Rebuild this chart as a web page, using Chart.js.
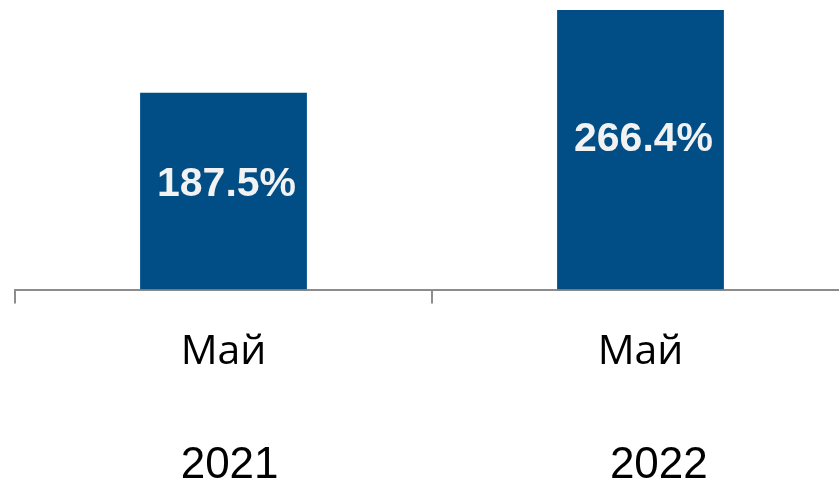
<!DOCTYPE html>
<html>
<head>
<meta charset="utf-8">
<script src="https://cdn.jsdelivr.net/npm/chart.js@4"></script>
<style>
  html, body { margin: 0; padding: 0; background: #fff; overflow: hidden; }
  #wrap { width: 864px; height: 486px; }
</style>
</head>
<body>
<div id="wrap"><canvas id="mayChart"></canvas></div>
<script>
const months = ['Май', 'Май'];
const years = ['2021', '2022'];
const values = [187.5, 266.4];

// white value labels inside the bars
const barLabels = {
    id: 'barLabels',
    afterDatasetsDraw(chart) {
        const ctx = chart.ctx;
        const meta = chart.getDatasetMeta(0);
        ctx.save();
        ctx.fillStyle = '#f2f2f2';
        ctx.font = 'bold 41px "Liberation Sans", Arial, sans-serif';
        ctx.textAlign = 'center';
        ctx.textBaseline = 'middle';
        meta.data.forEach((bar, i) => {
            const y = bar.y + (bar.base - bar.y) * 0.465;
            ctx.fillText(values[i].toFixed(1) + '%', bar.x + 3, y);
        });
        ctx.restore();
    }
};

const ctx = document.getElementById('mayChart').getContext('2d');
new Chart(ctx, {
    type: 'bar',
    data: {
        labels: months,
        datasets: [{
            data: values,
            backgroundColor: '#004E85',
            barPercentage: 0.4,
            categoryPercentage: 1.0
        }]
    },
    options: {
        responsive: true,
        maintainAspectRatio: false,
        animation: false,
        layout: { padding: { left: 15, right: 15, top: 0, bottom: 0 } },
        plugins: {
            legend: { display: false },
            tooltip: { enabled: false }
        },
        scales: {
            y: {
                display: false,
                min: 0,
                max: 276
            },
            x: {
                weight: 0,
                afterFit: (s) => { s.height = 112; },
                grid: {
                    drawOnChartArea: false,
                    color: '#8c8c8c',
                    lineWidth: 2,
                    tickLength: 14
                },
                border: { color: '#8c8c8c', width: 2 },
                ticks: {
                    color: '#000',
                    padding: 24,
                    maxRotation: 0,
                    font: { family: '"Open Sans", sans-serif', size: 41 }
                }
            },
            x2: {
                type: 'category',
                labels: years,
                position: 'bottom',
                weight: 1,
                afterFit: (s) => { s.height = 84.5; },
                grid: { display: false },
                border: { display: false },
                ticks: {
                    color: '#000',
                    padding: 30,
                    maxRotation: 0,
                    font: { family: '"Liberation Sans", Arial, sans-serif', size: 44 },
                    callback: (v, i) => (i === 1 ? '   ' : ' ') + years[i]
                }
            }
        }
    },
    plugins: [barLabels]
});
</script>
</body>
</html>
